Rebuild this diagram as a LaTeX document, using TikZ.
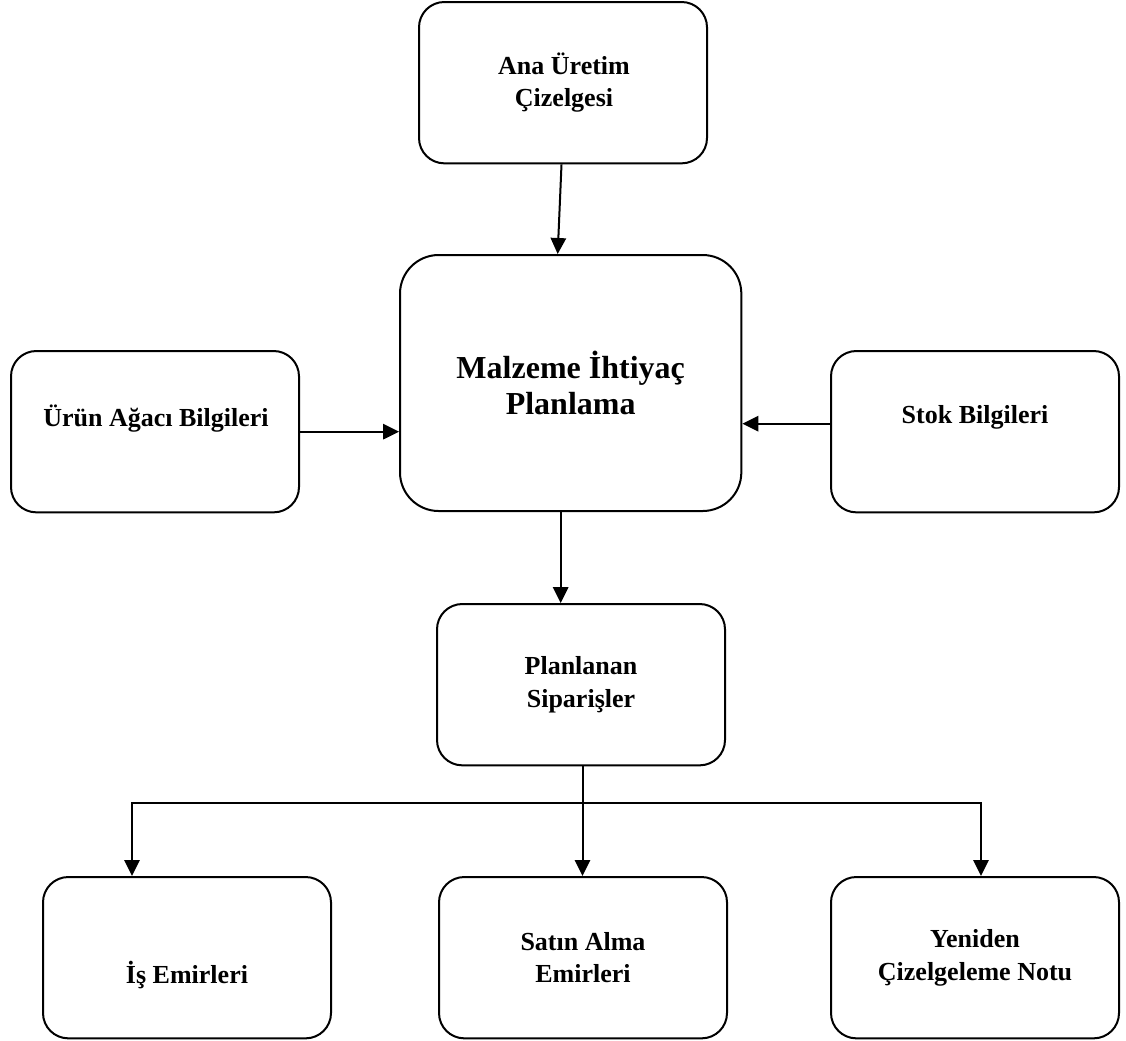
\documentclass[tikz,border=0pt]{standalone}
\usepackage{fontspec}
\setmainfont{Liberation Serif}
\usetikzlibrary{arrows.meta,calc}
\begin{document}
\begin{tikzpicture}[x=0.75pt,y=-0.75pt,
  box/.style={draw=black,line width=1.5pt,rounded corners=19pt,minimum width=216pt,minimum height=121pt,inner sep=0pt,anchor=north west},
  bigbox/.style={box,rounded corners=29pt,minimum width=256pt,minimum height=192pt},
  txt/.style={align=center,font=\fontsize{19.5}{24.5}\selectfont\bfseries},
  bigtxt/.style={align=center,font=\fontsize{24}{27.5}\selectfont\bfseries},
  arr/.style={line width=1.5pt,-{Triangle[length=12pt,width=11.5pt]}},
  ln/.style={line width=1.5pt}]
\useasboundingbox (0,0) rectangle (1126,1040);
% boxes
\node[box] (ana) at (418,1) {};
\node[bigbox] (mip) at (399,254) {};
\node[box] (urun) at (10,350) {};
\node[box] (stok) at (830,350) {};
\node[box] (plan) at (436,603) {};
\node[box] (is) at (42,876) {};
\node[box] (satin) at (438,876) {};
\node[box] (yen) at (830,876) {};
% texts
\node[txt] (tana) at ($(ana.center)+(1,0)$) {Ana Üretim\\Çizelgesi};
\node[bigtxt] (tmip) at (mip.center) {Malzeme İhtiyaç\\Planlama};
\node[txt] (turun) at ($(urun.center)+(1,-13)$) {Ürün Ağacı Bilgileri};
\node[txt] (tstok) at ($(stok.center)+(0,-14)$) {Stok Bilgileri};
\node[txt] (tplan) at (plan.center) {Planlanan\\Siparişler};
\node[txt] (tis) at ($(is.center)+(0,17)$) {İş Emirleri};
\node[txt] (tsatin) at (satin.center) {Satın Alma\\Emirleri};
\node[txt] (tyen) at (yen.center) {Yeniden\\Çizelgeleme Notu};
% connectors
\draw[arr] ($(ana.south)+(-1.5,0)$) -- ($(mip.north)+(-13,0)$);
\draw[arr] (urun.east) -- (urun.east -| mip.west);
\coordinate (sk) at ($(stok.west)+(0,-8)$);
\draw[arr] (sk) -- (sk -| mip.east);
\coordinate (mb) at ($(mip.south)+(-10,0)$);
\draw[arr] (mb) -- (mb |- plan.north);
\coordinate (ps) at ($(plan.south)+(1.5,0)$);
\draw[arr] (ps) -- (ps |- satin.north);
\coordinate (jl) at (132,803);
\coordinate (jr) at (981,803);
\draw[ln,line cap=rect] (jl) -- (jr);
\draw[arr] (jl) -- (jl |- is.north);
\draw[arr] (jr) -- (jr |- yen.north);
\end{tikzpicture}
\end{document}
